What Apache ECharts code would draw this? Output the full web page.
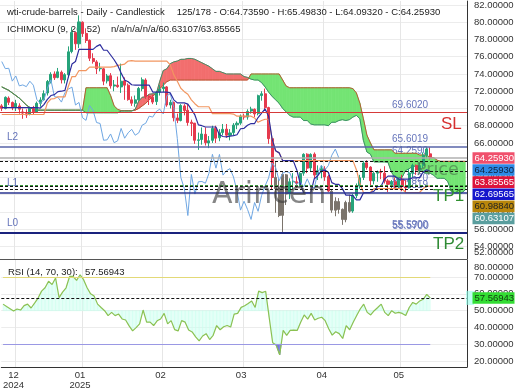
<!DOCTYPE html>
<html><head><meta charset="utf-8">
<script src="https://cdn.jsdelivr.net/npm/echarts@6/dist/echarts.min.js"></script>
<style>html,body{margin:0;padding:0;background:#fff}#c{width:520px;height:390px}</style>
</head><body><div id="c"></div>
<script>
// ---------- DATA ----------
const open = [70.30,70.00,71.20,70.70,70.10,70.30,69.60,69.40,69.30,70.00,69.60,70.60,71.00,71.80,73.10,74.00,73.60,74.20,73.30,73.90,76.60,78.80,77.50,80.00,78.70,77.90,75.80,75.40,74.60,74.60,73.20,73.80,72.60,72.70,72.50,73.20,72.70,71.00,70.60,71.00,72.30,73.30,71.40,71.30,70.80,71.90,72.30,72.50,70.40,70.70,68.90,68.60,70.30,69.80,68.40,68.30,66.30,66.40,67.00,66.00,66.30,67.70,66.60,67.20,67.60,66.90,67.20,68.10,68.30,69.10,69.00,69.70,69.90,69.40,71.50,71.70,70.10,66.50,62.00,60.70,57.60,62.30,60.10,61.50,61.50,61.30,62.50,64.70,63.10,64.70,62.30,62.80,63.00,62.10,60.40,58.20,59.20,58.30,57.10,59.10,58.10,59.90,61.00,62.00,63.70,63.20,61.60,62.50,62.70,62.50,61.60,61.20,61.50,60.90,61.80,60.90,60.80,62.50,63.40,62.80,63.40,64.60,64.7359];
const high = [70.50,71.40,71.40,70.80,71.00,70.60,70.00,69.90,70.20,70.30,70.80,71.30,72.10,73.30,74.20,74.30,74.70,74.40,74.10,77.20,79.40,78.90,80.80,80.10,79.30,78.00,76.40,75.60,75.30,74.70,74.00,74.10,73.30,73.70,75.20,73.60,72.90,71.40,71.50,72.50,73.60,73.50,71.60,71.60,72.00,72.70,73.00,72.60,71.00,70.80,69.40,70.50,70.50,70.50,68.70,68.30,67.20,67.80,67.80,66.80,68.00,68.00,67.60,68.20,68.20,67.60,68.30,68.50,69.30,69.40,69.90,70.20,70.00,71.60,72.00,72.30,70.20,67.00,63.90,61.80,62.60,62.40,61.90,62.50,62.10,62.60,64.80,64.80,64.80,64.90,63.40,63.40,63.30,62.30,60.60,59.70,59.60,58.40,59.30,60.00,60.10,61.30,62.30,63.90,64.00,63.30,62.70,62.80,63.00,63.30,61.80,61.70,62.00,62.00,62.30,61.70,63.00,63.60,63.50,63.70,64.90,65.50,65.4983];
const low = [69.70,69.90,70.40,69.80,69.70,69.40,68.80,68.90,69.20,69.30,69.50,70.20,70.90,71.50,72.90,73.30,73.50,72.90,72.90,73.60,76.40,76.80,77.00,78.30,77.60,75.50,75.20,74.00,74.30,72.70,72.90,72.30,72.00,72.40,71.80,71.00,70.90,70.30,70.20,70.90,72.00,71.10,70.40,70.50,70.40,71.50,71.90,70.20,70.00,68.50,68.30,68.50,69.20,68.00,66.80,65.90,65.20,65.80,65.70,65.40,66.00,66.00,66.20,66.90,66.60,66.30,66.90,67.60,68.10,68.70,68.70,69.40,69.00,69.20,70.90,69.80,65.90,60.60,57.90,57.40,55.59,58.80,59.50,60.60,60.80,60.90,62.20,62.50,62.70,61.80,61.70,61.90,61.60,60.30,57.90,57.50,57.80,56.50,56.80,57.90,57.90,59.60,60.70,61.70,62.90,60.90,61.20,61.50,61.80,61.30,60.30,60.60,60.60,60.70,60.40,60.30,60.70,62.00,62.30,62.50,63.10,64.20,64.0932];
const close = [70.02,71.29,70.71,70.08,70.58,69.91,69.46,69.24,70.10,69.62,70.60,70.99,71.72,73.13,73.96,73.56,74.25,73.32,73.92,76.57,78.82,77.50,80.04,78.68,77.88,75.83,75.44,74.62,74.66,73.17,73.77,72.62,72.73,72.53,73.16,72.70,71.03,70.61,71.00,72.32,73.32,71.37,71.29,70.74,71.85,72.25,72.48,70.40,70.70,68.93,68.62,70.35,69.76,68.37,68.26,66.31,66.36,67.04,66.03,66.25,67.68,66.55,67.18,67.58,66.90,67.16,68.07,68.28,69.11,69.00,69.65,69.92,69.36,71.48,71.70,70.10,66.50,61.99,60.70,57.58,62.35,60.07,61.50,61.53,61.33,62.47,64.68,63.08,64.67,62.27,62.79,63.02,62.05,60.42,58.21,59.24,58.29,57.13,59.09,58.07,59.91,61.02,61.95,63.67,63.15,61.62,62.49,62.69,62.56,61.57,61.20,61.53,60.89,61.84,60.94,60.79,62.52,63.41,62.85,63.37,64.58,65.29,64.2593];
const grayCandleIdx = [78, 79, 80, 81, 94, 95, 96, 97, 98, 99];
const tenkan = [70.1,70.1,70.1,70.1,70.1,70.1,70.1,70.1,70.1,70.1,70.1,70.05,70.45,71.05,71.5,71.6,71.95,72.0,72.1,73.7,75.15,75.45,76.85,76.85,76.85,76.85,76.85,77.2,77.4,76.75,76.75,76.2,75.65,75.0,74.1,73.3,73.1,72.75,72.7,72.7,72.7,72.7,72.7,71.9,71.9,71.9,71.9,71.9,71.8,71.0,70.65,70.65,70.65,70.5,69.9,69.25,68.1,68.0,67.85,67.85,67.85,67.85,66.95,66.75,66.7,66.8,66.85,66.95,67.65,67.7,68.05,68.25,68.25,68.95,69.45,69.95,69.1,66.45,65.1,64.85,63.95,63.95,63.95,63.95,62.9,61.3,60.2,60.2,60.2,61.85,62.2,62.75,62.85,62.6,61.4,61.2,61.2,60.7,59.95,59.95,59.9,59.4,59.4,60.2,60.25,60.25,60.4,60.95,60.95,61.8,62.15,62.15,62.15,61.8,61.8,61.8,61.8,61.95,61.95,62.0,62.6,62.9,62.7];
const kijun = [69.3,69.3,69.3,69.3,69.3,69.3,69.3,69.3,69.3,69.3,69.3,69.3,69.3,70.65,71.1,71.15,71.35,71.35,71.35,72.6,73.7,73.7,74.4,74.4,74.4,74.8,74.8,74.8,74.8,74.8,74.8,74.8,74.85,75.0,75.05,75.15,75.5,75.55,75.5,75.5,75.5,75.5,75.5,75.5,75.5,75.5,75.5,75.5,75.05,73.9,73.15,72.35,71.95,71.65,71.0,70.55,70.2,70.2,70.2,70.2,69.4,69.4,69.4,69.4,69.4,69.4,69.35,69.1,69.1,69.1,69.1,69.1,68.9,68.4,68.6,68.75,68.75,66.45,65.1,64.85,63.95,63.95,63.95,63.95,63.95,63.95,63.95,63.95,63.95,63.95,63.95,63.95,63.95,63.95,63.95,63.95,63.95,63.95,63.95,63.95,63.95,62.9,61.3,60.25,60.25,60.25,60.7,60.7,60.7,60.7,60.7,60.7,60.7,60.7,60.7,60.25,60.25,60.25,60.25,60.25,60.7,61.0,60.99];
const chikou = [75.44,74.62,74.66,73.17,73.77,72.62,72.73,72.53,73.16,72.70,71.03,70.61,71.00,72.32,73.32,71.37,71.29,70.74,71.85,72.25,72.48,70.40,70.70,68.93,68.62,70.35,69.76,68.37,68.26,66.31,66.36,67.04,66.03,66.25,67.68,66.55,67.18,67.58,66.90,67.16,68.07,68.28,69.11,69.00,69.65,69.92,69.36,71.48,71.70,70.10,66.50,61.99,60.70,57.58,62.35,60.07,61.50,61.53,61.33,62.47,64.68,63.08,64.67,62.27,62.79,63.02,62.05,60.42,58.21,59.24,58.29,57.13,59.09,58.07,59.91,61.02,61.95,63.67,63.15,61.62,62.49,62.69,62.56,61.57,61.20,61.53,60.89,61.84,60.94,60.79,62.52,63.41,62.85,63.37,64.58,65.29,64.26];
const spanA = [72.5,72.3,72.1,71.8,71.5,71.2,70.8,70.4,70.1,69.9,69.8,69.8,69.8,69.8,69.8,69.8,69.8,69.8,69.8,69.8,69.8,69.8,69.8,69.8,69.5,69.5,69.5,69.5,69.5,69.5,69.5,69.5,69.5,69.5,69.7,69.7,69.7,69.7,69.9,70.85,71.3,71.35,71.65,71.7,71.7,73.15,74.4,74.6,75.2,75.4,75.5,75.7,75.7,75.8,75.8,75.7,75.5,75.3,75.1,74.9,74.6,74.3,74.3,74.15,74.0,74.0,74.0,74.0,74.0,73.7,73.6,73.4,73.3,73.3,73.0,72.5,71.9,71.4,71.0,70.6,70.0,69.6,69.2,69.0,69.0,69.0,68.6,68.6,68.2,68.1,68.1,68.1,68.1,68.0,68.4,68.4,68.6,68.7,68.6,68.7,69.0,69.2,68.8,66.3,64.95,64.7,63.8,63.8,63.8,63.8,63.75,62.6,62.0,62.0,62.0,62.8,63.0,63.3,63.3,63.2,62.6,62.5,62.5,62.25,61.9,61.9,61.9,61.55,60.4,60.2,60.2,60.2,60.55];
const spanB = [72.5,72.3,72.1,71.8,71.5,71.2,70.8,70.4,70.1,69.9,69.8,69.8,69.8,69.8,69.8,69.8,69.8,69.8,69.8,69.8,69.8,69.8,69.8,69.8,72.4,72.4,72.4,72.4,72.4,72.4,72.4,71.5,70.3,69.9,69.75,69.75,69.75,69.75,69.8,70.0,70.3,70.6,71.0,71.4,71.8,72.3,72.7,73.1,73.3,73.3,73.3,73.3,73.3,73.3,73.3,73.3,73.3,73.3,73.3,73.3,73.3,73.3,73.3,73.3,73.3,73.3,73.3,73.3,73.3,73.3,73.3,74.0,74.0,74.0,74.0,74.0,74.0,74.0,74.0,74.0,73.3,72.6,72.4,72.4,72.4,72.4,72.4,72.4,72.4,72.4,72.4,72.4,72.4,72.4,72.4,72.4,72.4,72.4,72.4,72.4,72.3,71.8,70.6,68.8,66.9,66.0,65.2,65.2,65.2,65.2,65.2,65.2,64.8,64.8,64.8,64.8,64.8,64.8,64.8,64.6,64.6,64.6,64.3,64.3,64.0,63.86,63.86,63.86,63.86,63.86,63.86,63.86,63.86];
const rsi = [53.9,52.5,51.2,49.8,51.0,50.4,53.0,53.9,51.6,54.5,57.5,61.6,63.6,67.5,65.5,69.4,57.8,61.0,63.6,70.3,70.3,68.0,71.3,68.4,63.6,60.0,58.7,53.9,51.9,50.0,47.1,49.0,47.1,48.0,45.1,44.5,41.0,38.0,40.0,42.2,50.4,43.2,43.2,41.2,44.0,45.1,48.4,42.2,44.1,38.8,38.0,44.1,43.2,38.5,37.4,34.5,32.1,35.0,36.4,32.9,35.4,41.2,38.7,40.5,41.2,40.3,48.0,48.4,52.0,52.9,54.3,55.8,51.9,61.6,60.7,61.5,46.0,31.0,29.6,23.8,38.3,35.4,38.3,38.5,38.3,43.2,47.5,45.0,48.4,44.5,45.5,46.1,44.1,39.3,35.5,37.5,36.4,33.5,41.2,38.7,43.2,47.1,51.0,53.9,49.0,47.5,50.0,51.9,53.9,49.0,47.1,50.0,48.5,49.0,48.4,47.1,51.9,54.9,53.9,55.8,56.8,59.7,57.57];
const futureSlots = 10;
const monthTickIdx = [3, 22, 45, 68, 91, 113];
const monthTickLabels = ['12\n2024', '01\n2025', '02', '03', '04', '05'];
const priceTicks = [54,56,58,60,62,64,66,68,70,72,74,76,78,80,82];
const rsiTicks = [20,30,40,50,60,70];
// levels
const levelSL = 69.602, levelL2 = 65.6019, levelPrice = 64.259, levelTP1 = 61.15, levelL1 = 60.28, levelL0 = 55.59, levelTP2 = 55.57;
const ichiLevels = [63.85565, 62.69565, 60.98840, 60.63107];
const lastClose = 64.2593;
const rsiLast = 57.56943;
const boxTexts = ['64.25930','64.25930','63.85565','62.69565','60.98840','60.63107'];

// ---------- CHART ----------
const FONT = '"Liberation Sans", Arial, sans-serif';
const cats = [];
for (let i = 0; i < close.length + futureSlots; i++) cats.push(String(i));
const GRAY = '#7b746c';
const candleData = close.map((c, i) => {
  const v = [open[i], c, low[i], high[i]];
  if (grayCandleIdx.indexOf(i) >= 0) return {value:v, itemStyle:{color:GRAY, color0:GRAY, borderColor:GRAY, borderColor0:GRAY}};
  return v;
});
const cloudData = [];
for (let j = 0; j < spanA.length - 1; j++) cloudData.push([j, spanA[j], spanB[j], spanA[j+1], spanB[j+1]]);
const rsiSeg = [];
for (let j = 0; j < rsi.length - 1; j++) rsiSeg.push([j, rsi[j], rsi[j+1]]);

function poly(pts, col) {
  return {type:'polygon', shape:{points:pts}, style:{fill:col, stroke:col, lineWidth:0.8}};
}
function fillBetween(p0a, p1a, p0b, p1b, d0, d1, colPos, colNeg) {
  const out = [];
  if ((d0 >= 0 && d1 >= 0) || (d0 <= 0 && d1 <= 0)) {
    const col = (d0 + d1) >= 0 ? colPos : colNeg;
    if (col) out.push(poly([p0a,p1a,p1b,p0b], col));
  } else {
    const t = d0 / (d0 - d1);
    const cx = p0a[0] + (p1a[0]-p0a[0])*t, cy = p0a[1] + (p1a[1]-p0a[1])*t;
    const c0 = d0 > 0 ? colPos : colNeg, c1 = d1 > 0 ? colPos : colNeg;
    if (c0) out.push(poly([p0a,[cx,cy],p0b], c0));
    if (c1) out.push(poly([[cx,cy],p1a,p1b], c1));
  }
  return out;
}

const monthSplit = {show:true, interval:(i)=>monthTickIdx.indexOf(i-1) >= 0, lineStyle:{color:'#e6e6e6', width:1}};

const option = {
  animation:false,
  backgroundColor:'#ffffff',
  grid:[{left:0, top:0, width:467, height:259}, {left:0, top:260, width:467, height:109}],
  xAxis:[
    {type:'category', gridIndex:0, data:cats, boundaryGap:true, axisLine:{show:true, lineStyle:{color:'#555'}}, axisTick:{show:false}, axisLabel:{show:false}, splitLine:monthSplit},
    {type:'category', gridIndex:1, data:cats, boundaryGap:true, axisLine:{show:true, lineStyle:{color:'#333'}}, axisTick:{show:false},
     axisLabel:{show:true, interval:(i)=>monthTickIdx.indexOf(i) >= 0, formatter:(v)=>{const k = monthTickIdx.indexOf(Number(v)); return k>=0?monthTickLabels[k]:'';}, fontSize:9.5, fontFamily:FONT, color:'#333', margin:3, lineHeight:10},
     splitLine:monthSplit}
  ],
  yAxis:[
    {type:'value', gridIndex:0, position:'right', min:52.54, max:82.46, axisLine:{show:true, lineStyle:{color:'#333'}},
     axisTick:{show:false, customValues:priceTicks},
     axisLabel:{customValues:priceTicks, formatter:(v)=>v.toFixed(5), fontSize:9.5, fontFamily:FONT, color:'#333', margin:7},
     splitLine:{show:true, lineStyle:{color:'#ececec'}}},
    {type:'value', gridIndex:1, position:'right', min:16.61, max:80.07, axisLine:{show:true, lineStyle:{color:'#333'}},
     axisTick:{show:false, customValues:rsiTicks},
     axisLabel:{customValues:rsiTicks, formatter:(v)=>v.toFixed(5), fontSize:9.5, fontFamily:FONT, color:'#333', margin:7},
     splitLine:{show:true, lineStyle:{color:'#ececec'}}}
  ],
  series:[
    {type:'custom', name:'cloud', xAxisIndex:0, yAxisIndex:0, z:1, silent:true, clip:true, data:cloudData,
     encode:{x:0, y:[1,2]},
     renderItem:(params, api)=>{
       const j = api.value(0);
       const a0 = api.coord([j, api.value(1)]), b0 = api.coord([j, api.value(2)]);
       const a1 = api.coord([j+1, api.value(3)]), b1 = api.coord([j+1, api.value(4)]);
       const d0 = api.value(2) - api.value(1), d1 = api.value(4) - api.value(3);
       return {type:'group', children: fillBetween(b0, b1, a0, a1, d0, d1, '#74e474', '#f26e6e')};
     }},
    {type:'line', name:'spanB', data:spanB, symbol:'none', z:2, silent:true, lineStyle:{color:'#b65a32', width:1}},
    {type:'line', name:'spanA', data:spanA, symbol:'none', z:2, silent:true, lineStyle:{color:'#3f8f67', width:1}},
    {type:'candlestick', name:'price', data:candleData, z:3, barWidth:'72%',
     itemStyle:{color:'#26a37a', color0:'#e5394d', borderColor:'#26a37a', borderColor0:'#e5394d', borderWidth:1}},
    {type:'line', name:'chikou', data:chikou, symbol:'none', z:4, silent:true, lineStyle:{color:'#6fa7e3', width:1}},
    {type:'line', name:'kijun', data:kijun, symbol:'none', z:4, silent:true, lineStyle:{color:'#f29660', width:1.2}},
    {type:'line', name:'tenkan', data:tenkan, symbol:'none', z:4, silent:true, lineStyle:{color:'#2d2d9e', width:1.2},
     markLine:{silent:true, symbol:'none', label:{show:false}, animation:false,
      data:[
        {yAxis:levelSL, lineStyle:{color:'#d63a3a', width:1.2, type:'solid'}},
        {yAxis:levelL2, lineStyle:{color:'#5964a8', width:1.6, type:'solid'}},
        {yAxis:levelPrice, lineStyle:{color:'#b0b0b0', width:1.5, type:'solid'}},
        {yAxis:ichiLevels[0], lineStyle:{color:'#111', width:1, type:[3,2]}},
        {yAxis:ichiLevels[1], lineStyle:{color:'#111', width:1, type:[3,2]}},
        {yAxis:levelTP1, lineStyle:{color:'#3a9a3a', width:1, type:[3,2]}},
        {yAxis:ichiLevels[2], lineStyle:{color:'#111', width:1, type:[3,2]}},
        {yAxis:ichiLevels[3], lineStyle:{color:'#111', width:1, type:[3,2]}},
        {yAxis:levelL1, lineStyle:{color:'#2a3590', width:1.5, type:'solid'}},
        {yAxis:levelTP2, lineStyle:{color:'#4a9a4a', width:1, type:'solid'}},
        {yAxis:levelL0, lineStyle:{color:'#1a237e', width:2, type:'solid'}}
      ]}},
    {type:'custom', name:'rsiFill', xAxisIndex:1, yAxisIndex:1, z:1, silent:true, clip:true, data:rsiSeg,
     encode:{x:0, y:[1,2]},
     renderItem:(params, api)=>{
       const j = api.value(0), v0 = api.value(1), v1 = api.value(2);
       const p0 = api.coord([j, v0]), p1 = api.coord([j+1, v1]);
       const m0 = api.coord([j, 50]), m1 = api.coord([j+1, 50]);
       const l0 = api.coord([j, 30]), l1 = api.coord([j+1, 30]);
       const ch = fillBetween(p0, p1, m0, m1, v0-50, v1-50, 'rgba(205,255,240,0.55)', 'rgba(205,255,240,0.55)')
         .concat(fillBetween(p0, p1, l0, l1, v0-30, v1-30, null, '#7a78dc'));
       return {type:'group', children: ch};
     }},
    {type:'line', name:'rsi', xAxisIndex:1, yAxisIndex:1, data:rsi, symbol:'none', z:4, silent:true, lineStyle:{color:'#8cc152', width:1.2},
     markLine:{silent:true, symbol:'none', label:{show:false}, animation:false,
      data:[
        [{coord:['0',70]},{coord:[String(rsi.length-1),70], lineStyle:{color:'#e3d977', width:1, type:'solid'}}],
        [{coord:['0',30]},{coord:[String(rsi.length-1),30], lineStyle:{color:'#9a98e4', width:1, type:'solid'}}],
        {yAxis:rsiLast, lineStyle:{color:'#111', width:1, type:[3,2]}}
      ]}}
  ]
};

const chart = echarts.init(document.getElementById('c'), null, {width:520, height:390, renderer:'canvas'});
chart.setOption(option);

const py = v => chart.convertToPixel({yAxisIndex:0}, v);
const ry = v => chart.convertToPixel({yAxisIndex:1}, v);
const g = [];
function txt(x, y, s, o) {
  o = o || {};
  g.push({type:'text', x:x, y:y, z:o.z != null ? o.z : 50, silent:true,
    style:{text:s, fill:o.fill || '#222', font:(o.size||9.5)+'px '+(o.family||FONT),
      textAlign:o.align||'left', align:o.align||'left', textVerticalAlign:'middle', verticalAlign:'middle'}});
}
// header
txt(7, 12.7, 'wti-crude-barrels - Daily - Candlestick', {z:0});
txt(176.7, 12.7, '125/178 - O:64.73590 - H:65.49830 - L:64.09320 - C:64.25930', {z:0});
txt(7, 29.3, 'ICHIMOKU (9, 26, 52)', {z:0});
txt(111, 29.3, 'n/a/n/a/n/a/60.63107/63.85565', {z:0});
// level value labels
const lvlCol = '#6675bb';
txt(392, py(levelSL) - 7, '69.6020', {fill:lvlCol, size:10, z:0});
txt(392, py(levelL2) - 7, '65.6019', {fill:lvlCol, size:10, z:0});
txt(392, py(levelPrice) - 7, '64.2590', {fill:lvlCol, size:10, z:0});
txt(392, py(levelTP1) - 7, '61.1520', {fill:lvlCol, size:10, z:0});
txt(392, py(levelL1) - 7, '60.2819', {fill:lvlCol, size:10, z:0});
txt(392, py(levelL0) - 7, '55.5900', {fill:lvlCol, size:10, z:0});
txt(392.6, py(levelL0) - 6.6, '55.5700', {fill:lvlCol, size:10, z:0});
txt(7, py(levelL2) - 9, 'L2', {fill:lvlCol, size:10});
txt(7, py(levelL1) - 9, 'L1', {fill:lvlCol, size:10});
txt(7, py(levelL0) - 9, 'L0', {fill:lvlCol, size:10});
txt(441, py(levelSL) + 12.3, 'SL', {fill:'#d63030', size:17});
txt(433, py(levelTP1) + 11.7, 'TP1', {fill:'#2f8f2f', size:17});
txt(433, py(levelTP2) + 11.3, 'TP2', {fill:'#2f8a34', size:17});
// watermark & price tag
txt(212, 195, 'Arincen', {fill:'rgba(60,60,60,0.62)', size:30, family:'"DejaVu Sans", sans-serif', z:60});
txt(416, 170, 'Price', {fill:'rgba(70,100,70,0.55)', size:17.5, family:'"DejaVu Sans", sans-serif', z:60});
// clamped axis labels
txt(474, 252.7, '52.00000', {fill:'#333'});
txt(474, 267.7, '80.00000', {fill:'#333'});
// right boxed labels
const boxFill = ['#f0506c','#2e8ae6','#dc143c','#1616cc','#b8860b','#5a9e9e'];
const boxTextCol = ['#fff','#10203a','#fff','#fff','#222','#fff'];
let by = py(lastClose);
for (let k = 0; k < boxTexts.length; k++) {
  g.push({type:'rect', z:70, silent:true, shape:{x:472.5, y:by-5.8, width:42, height:11.6}, style:{fill:boxFill[k]}});
  txt(474.5, by, boxTexts[k], {fill:boxTextCol[k], z:71});
  by += 12.1;
}
const rY = ry(rsiLast);
g.push({type:'rect', z:69, silent:true, shape:{x:466, y:rY-7, width:8, height:14}, style:{fill:'rgba(150,255,235,0.6)'}});
g.push({type:'rect', z:70, silent:true, shape:{x:472.5, y:rY-5.8, width:42, height:11.6}, style:{fill:'#33dd33'}});
txt(474.5, rY, rsiLast.toFixed(5), {fill:'#104010', z:71});
// RSI title
txt(8, 272.3, 'RSI (14, 70, 30):', {z:0});
txt(85, 272.3, rsiLast.toFixed(5), {z:0});
chart.setOption({graphic: g});
</script></body></html>
